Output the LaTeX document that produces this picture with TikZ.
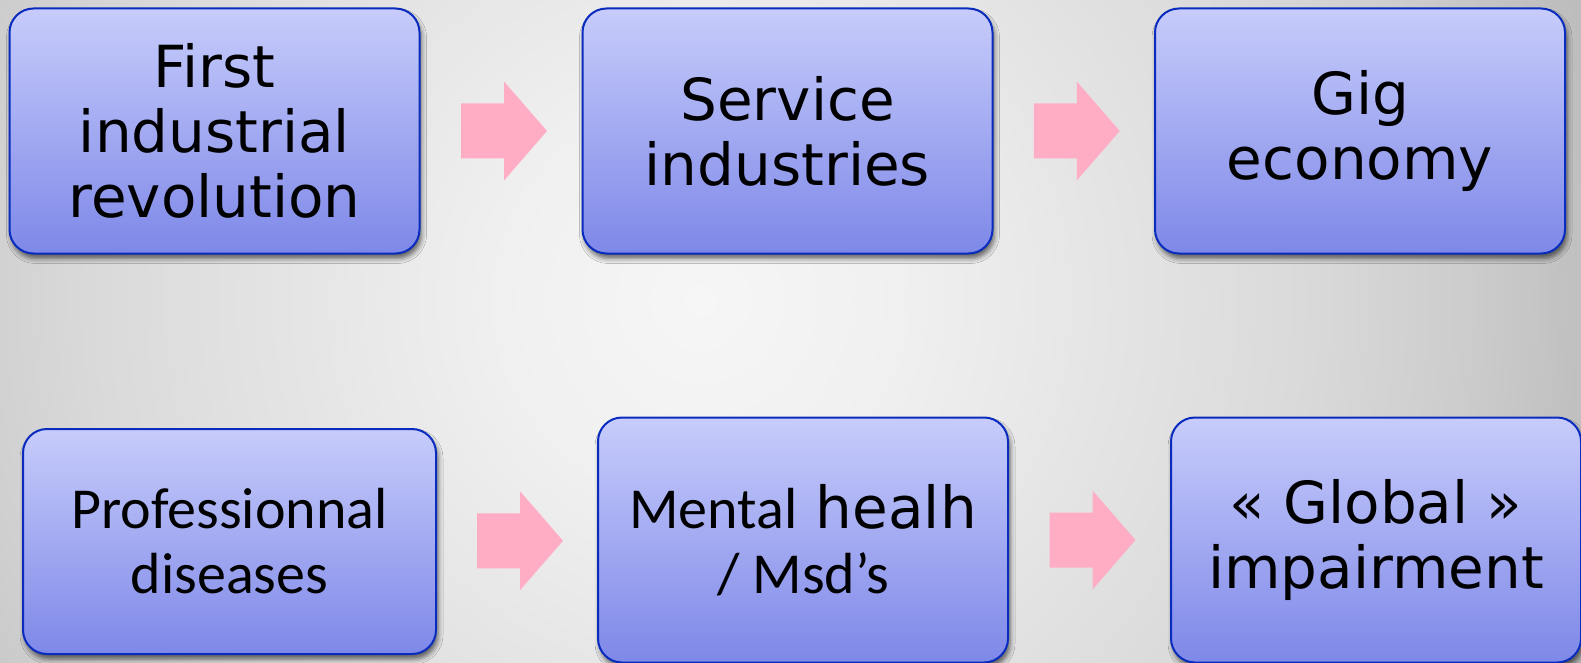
\documentclass[tikz,border=0pt]{standalone}
\usepackage{fontspec}
\setmainfont{DejaVu Sans}
\newfontfamily\calfont{Carlito}
\usetikzlibrary{calc,shadows.blur}

\definecolor{boxtop}{HTML}{C7CCFB}
\definecolor{boxbot}{HTML}{7E88E8}
\definecolor{boxline}{HTML}{0A2CBE}
\definecolor{arrowpink}{HTML}{FFADC5}
\definecolor{bg0}{HTML}{F6F6F6}
\definecolor{bg1}{HTML}{F0F0F0}
\definecolor{bg2}{HTML}{DADADA}
\definecolor{bg3}{HTML}{D2D2D2}
\definecolor{bg4}{HTML}{CBCBCB}
\definecolor{bg5}{HTML}{C0C0C0}
\definecolor{bg6}{HTML}{B8B8B8}
\pgfdeclareradialshading{bgshade}{\pgfpoint{0bp}{0bp}}{color(0bp)=(bg0); color(5bp)=(bg1); color(15bp)=(bg2); color(17.5bp)=(bg3); color(19.5bp)=(bg4); color(22bp)=(bg5); color(25bp)=(bg6); color(50bp)=(bg6)}

\begin{document}
\begin{tikzpicture}[x=1pt,y=-1pt,
  box/.style={draw=boxline, line width=2pt, rounded corners=24pt,
    top color=boxtop, bottom color=boxbot,
    minimum width=410pt, minimum height=245pt, align=center, inner sep=0pt,
    font=\fontsize{58pt}{65pt}\selectfont,
    blur shadow={shadow xshift=2pt, shadow yshift=-5pt, shadow blur radius=5pt, shadow opacity=60}},
  blockarrow/.style={fill=arrowpink}]

\useasboundingbox (0,0) rectangle (1581,663);

%background
\begin{scope}
\clip (0,0) rectangle (1581,663);
\fill[bg6] (0,0) rectangle (1581,663);
\shade[shading=bgshade] (700,300) circle (1000);
\end{scope}

%top row
\node[box] (first) at (214.5,131) {First\\industrial\\revolution};
\node[box] (service) at (787.5,131) {Service\\industries};
\node[box] (gig) at (1360,131) {Gig\\economy};

%bottom row
\node[box, minimum width=413pt, minimum height=225pt,
  font=\calfont\fontsize{58pt}{65pt}\selectfont] (prof) at (229.5,541.5) {Professionnal\\diseases};
\node[box] (mental) at (803,540) {{\calfont Mental} healh\\{\calfont / Msd’s}};
\node[box] (global) at (1376,540) {« Global »\\impairment};

%block arrows between the boxes
\foreach \a/\b in {first/service, service/gig, prof/mental, mental/global}{
  \coordinate (m) at ($(\a.east)!0.5!(\b.west)+(3,0)$);
  \fill[blockarrow, shift={(m)}] (-43,-27.5) -- (0,-27.5) -- (0,-49.5) -- (43,0)
    -- (0,49.5) -- (0,27.5) -- (-43,27.5) -- cycle;
}

\end{tikzpicture}
\end{document}
